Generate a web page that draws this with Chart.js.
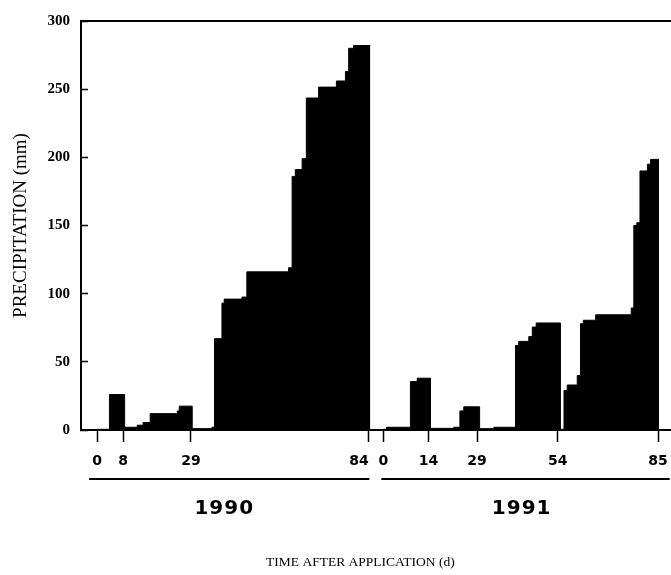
<!DOCTYPE html>
<html>
<head>
<meta charset="utf-8">
<script src="https://cdn.jsdelivr.net/npm/chart.js@4"></script>
<style>
    html, body { margin: 0; padding: 0; background: #fff; }
    canvas { display: block; }
</style>
</head>
<body>
<canvas id="precip-chart" width="671" height="575"></canvas>
<script>
// Cumulative precipitation after application.
// Each value holds from its day until the next day in the list.
const days1990 = [0, 3.8, 8.5, 12.4, 14.2, 16.4, 24.8, 25.4, 29.4, 35.5, 36.3, 38.6, 39.3, 44.8, 46.3,
                  59.2, 60.3, 61.3, 63.4, 64.7, 68.5, 74, 76.8, 77.8, 79.3, 84.5];
const precip1990 = [0.5, 26, 2, 3.5, 5.5, 12, 14, 17.5, 1, 2, 67, 93, 96, 97.5, 116,
                    119, 186, 191, 199, 243.5, 251.5, 256, 263, 280, 282, 282];

const days1991 = [0, 1, 8.4, 10.5, 14.6, 21.8, 23.7, 24.9, 29.8, 34.2, 40.9, 41.9, 45, 46.1, 47.3,
                  54.8, 55.9, 56.9, 60, 61, 61.9, 65.7, 76.7, 77.5, 78.4, 79.4, 81.7, 82.7, 85.3];
const precip1991 = [0.5, 2, 35.5, 38, 1.2, 2, 14, 17, 1, 2, 62, 65, 68.5, 75.5, 78.5,
                    0.5, 29, 33, 40, 78, 80.5, 84.5, 89.5, 150, 152, 190, 195, 198.5, 198.5];

// 1991 is drawn to the right of 1990 on the same day axis
const YEAR_OFFSET = 88.5;

const xTickDays   = [0, 8, 29, 84, 0, 14, 29, 54, 85];
const xTickYear   = [0, 0, 0, 0, 1, 1, 1, 1, 1];
const yearLabels  = ['1990', '1991'];
const yearLabelAt = [39.3, 42.8];          // day within each year
const yearSpans   = [[-2.5, 84.2], [-0.6, 88.6]];

const X_TITLE    = 'TIME AFTER APPLICATION (d)';
const X_TITLE_AT = 81.4;                   // on the 1990 day axis

const toAxis = (day, year) => day + (year ? YEAR_OFFSET : 0);

// last 1990 label sits left of its tick so it clears the 1991 "0"
const tickLabel = (index) => {
    const text = String(xTickDays[index]);
    return index === 3 ? text + '    ' : text;
};

// ── Year brackets and x title under the axis ──────────────────────────────

const yearBrackets = {
    id: 'yearBrackets',
    afterDraw(chart) {
        const { ctx, chartArea, scales: { x } } = chart;
        const lineY = chartArea.bottom + 49;
        ctx.save();
        ctx.strokeStyle = '#000';
        ctx.lineWidth = 2;
        yearSpans.forEach(([a, b], i) => {
            ctx.beginPath();
            ctx.moveTo(x.getPixelForValue(toAxis(a, i)), lineY);
            ctx.lineTo(x.getPixelForValue(toAxis(b, i)), lineY);
            ctx.stroke();
        });
        ctx.fillStyle = '#000';
        ctx.textAlign = 'center';
        ctx.textBaseline = 'middle';
        ctx.font = 'bold 20px "DejaVu Sans"';
        ctx.letterSpacing = '1px';
        yearLabels.forEach((label, i) => {
            ctx.fillText(label, x.getPixelForValue(toAxis(yearLabelAt[i], i)), chartArea.bottom + 79);
        });
        ctx.letterSpacing = '0px';
        ctx.font = '13.5px "Liberation Serif"';
        ctx.fillText(X_TITLE, x.getPixelForValue(X_TITLE_AT), chartArea.bottom + 132);
        ctx.restore();
    },
};

// ── Chart ──────────────────────────────────────────────────────────────────

const stepSeries = (days, values, year) => ({
    data: days.map((d, i) => ({ x: toAxis(d, year), y: values[i] })),
    stepped: true,
    fill: 'origin',
    backgroundColor: '#000',
    borderColor: '#000',
    borderWidth: 1,
    pointRadius: 0,
});

new Chart(document.getElementById('precip-chart'), {
    type: 'line',
    data: {
        datasets: [
            stepSeries(days1990, precip1990, 0),
            stepSeries(days1991, precip1991, 1),
        ],
    },
    plugins: [yearBrackets],
    options: {
        responsive: false,
        animation: false,
        layout: { padding: { top: 21, left: 0, right: 0, bottom: 0 } },
        plugins: {
            legend: { display: false },
            tooltip: { enabled: false },
        },
        scales: {
            x: {
                type: 'linear',
                position: 'bottom',
                min: -5,
                max: 177.5,
                afterBuildTicks: (scale) => {
                    scale.ticks = xTickDays.map((d, i) => ({ value: toAxis(d, xTickYear[i]) }));
                },
                afterFit: (scale) => {
                    scale.height = 145;
                    scale.paddingLeft = 0;
                    scale.paddingRight = 0;
                },
                ticks: {
                    autoSkip: false,
                    maxRotation: 0,
                    padding: 11,
                    color: '#000',
                    font: { family: 'DejaVu Sans', size: 14, weight: 'bold' },
                    callback: (value, index) => tickLabel(index),
                },
                grid: {
                    drawOnChartArea: false,
                    drawTicks: true,
                    tickLength: 12,
                    tickWidth: 1.5,
                    tickColor: '#000',
                },
                border: { display: true, color: '#000', width: 2 },
            },
            xTop: {
                type: 'linear',
                position: 'top',
                min: -5,
                max: 177.5,
                ticks: { display: false },
                grid: { display: false, drawTicks: false },
                border: { display: true, color: '#000', width: 2 },
                afterFit: (scale) => {
                    scale.height = 0;
                    scale.paddingLeft = 0;
                    scale.paddingRight = 0;
                },
            },
            y: {
                min: 0,
                max: 300,
                afterFit: (scale) => {
                    scale.width = 81;
                    scale.paddingTop = 0;
                    scale.paddingBottom = 0;
                },
                ticks: {
                    stepSize: 50,
                    padding: 18,
                    color: '#000',
                    font: { family: 'Liberation Serif', size: 15, weight: 'bold' },
                },
                grid: {
                    drawOnChartArea: false,
                    drawTicks: true,
                    tickLength: -7,
                    tickWidth: 1.5,
                    tickColor: '#000',
                },
                border: { display: true, color: '#000', width: 2 },
                title: {
                    display: true,
                    text: 'PRECIPITATION (mm)',
                    color: '#000',
                    padding: { top: 10, bottom: 0 },
                    font: { family: 'Liberation Serif', size: 19 },
                },
            },
        },
    },
});
</script>
</body>
</html>
